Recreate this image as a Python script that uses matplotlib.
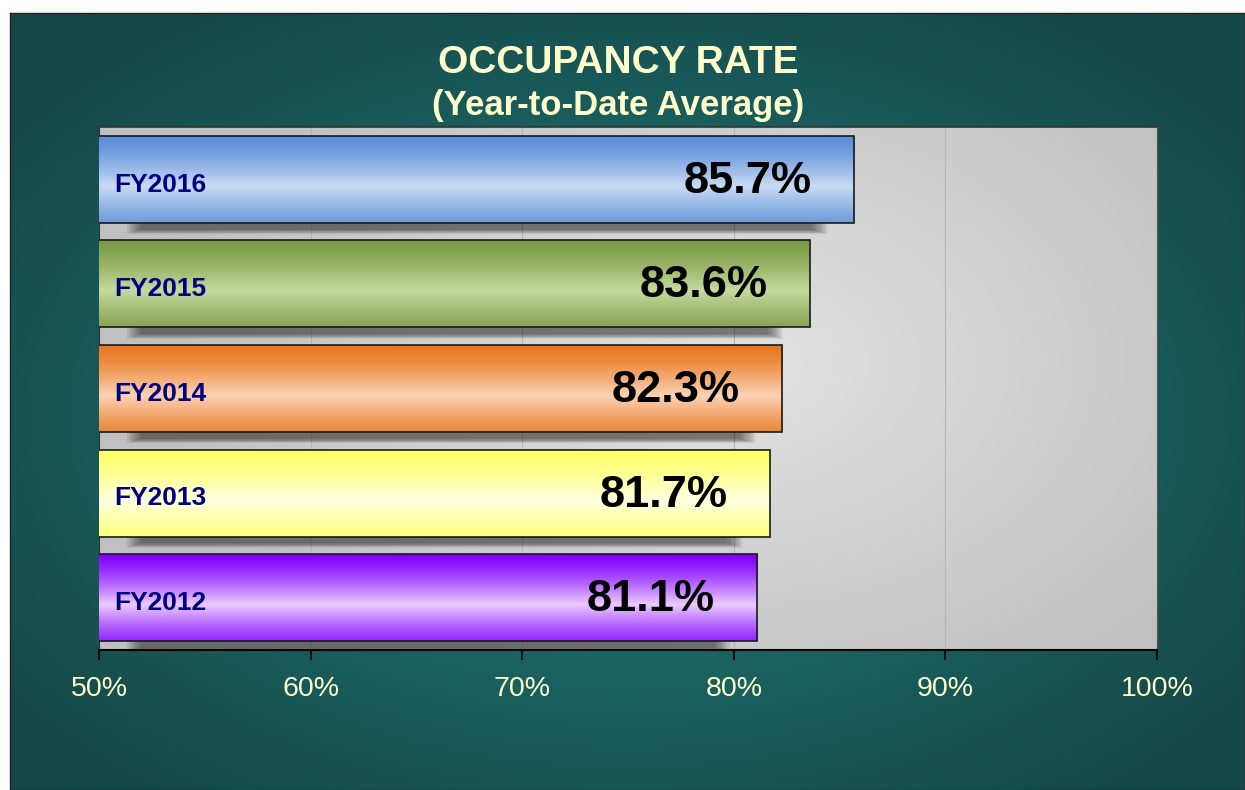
import matplotlib
matplotlib.use("Agg")
import matplotlib.pyplot as plt
import numpy as np
from matplotlib.patches import Rectangle
from matplotlib.colors import to_rgb

plt.rcParams['font.family'] = ['Liberation Sans', 'DejaVu Sans']

# -------------------------------
# Data
# -------------------------------
years = ['FY2012', 'FY2013', 'FY2014', 'FY2015', 'FY2016']
occupancy = [81.1, 81.7, 82.3, 83.6, 85.7]
tick_values = [50, 60, 70, 80, 90, 100]
tick_labels = ['50%', '60%', '70%', '80%', '90%', '100%']

# edge colour / highlight colour of each bar gradient
edge_colors = ['#8000FF', '#FFFF66', '#E8761E', '#7A9A46', '#5A8DD8']
light_colors = ['#EBCBFF', '#FFFFE2', '#FBD3B5', '#C6DA9E', '#C9DBF3']

cream = '#FFFFCC'
navy = '#000080'


def vertical_gradient(c_edge, c_light, n=200):
    t = np.linspace(0, 1, n)
    w = 1 - np.abs(t - 0.58) / 0.58
    w = np.clip(w, 0, 1) ** 1.3
    e = np.array(to_rgb(c_edge))
    l = np.array(to_rgb(c_light))
    rgb = e[None, :] * (1 - w[:, None]) + l[None, :] * w[:, None]
    return rgb[:, None, :]


fig = plt.figure(figsize=(12.45, 7.9), dpi=100)

# -------------------------------
# Teal background panel
# -------------------------------
bg = fig.add_axes([10 / 1245, 0, 1 - 10 / 1245, 1 - 13 / 790], zorder=-2)
yy, xx = np.mgrid[0:1:300j, 0:1:500j]
r = np.sqrt(((xx - 0.5) / 0.62) ** 2 + ((yy - 0.52) / 0.62) ** 2)
r = np.clip(r, 0, 1)
c_in = np.array(to_rgb('#1F807E'))
c_out = np.array(to_rgb('#164848'))
bg_img = c_in[None, None, :] * (1 - r[..., None]) + c_out[None, None, :] * r[..., None]
bg.imshow(bg_img, extent=(0, 1, 0, 1), aspect='auto', origin='upper')
bg.set_xlim(0, 1)
bg.set_ylim(0, 1)
bg.set_xticks([])
bg.set_yticks([])
for s in bg.spines.values():
    s.set_color('#222222')
    s.set_linewidth(1.0)

# -------------------------------
# Main plot area
# -------------------------------
ax = fig.add_axes([99 / 1245, 1 - 650 / 790, (1157 - 99) / 1245, (650 - 127) / 790])
ax.patch.set_visible(False)

# gray radial gradient of plot area
py, px = np.mgrid[0:1:200j, 0:1:400j]
pr = np.sqrt(((px - 0.6) / 0.55) ** 2 + ((py - 0.45) / 0.75) ** 2)
pr = np.clip(pr, 0, 1)
g_in = np.array(to_rgb('#E2E2E2'))
g_out = np.array(to_rgb('#C0C0C0'))
plot_img = g_in[None, None, :] * (1 - pr[..., None]) + g_out[None, None, :] * pr[..., None]
ax.imshow(plot_img, extent=(0, 1, 0, 1), transform=ax.transAxes,
          aspect='auto', origin='upper', zorder=0)

# grid lines
for v in tick_values[1:-1]:
    ax.axvline(v, color='#B5B5B5', lw=0.8, zorder=1)

y_pos = np.arange(len(years))
bar_h = 0.83

# soft shadows (stacked translucent rectangles)
for y, v in zip(y_pos, occupancy):
    for k in range(8):
        d = k * 0.1
        dy = k * 0.006
        ax.add_patch(Rectangle((52.0 - d, y - bar_h / 2 - 0.065 - dy),
                               (v - 2.0) - 52.0 + 2 * d, bar_h,
                               facecolor='#202020', edgecolor='none',
                               alpha=0.09, zorder=2))

bars = ax.barh(y_pos, occupancy, height=bar_h, left=0,
               color='none', edgecolor='#1A1A1A', linewidth=1.2, zorder=4)

for bar, ce, cl in zip(bars, edge_colors, light_colors):
    x0 = 50
    x1 = bar.get_x() + bar.get_width()
    y0 = bar.get_y()
    y1 = y0 + bar.get_height()
    ax.imshow(vertical_gradient(ce, cl), extent=(x0, x1, y0, y1),
              aspect='auto', origin='upper', zorder=3)

# labels
for y, v, name in zip(y_pos, occupancy, years):
    ax.text(50.7, y - 0.05, name, ha='left', va='center', fontsize=19,
            fontweight='bold', color=navy, zorder=5)
    ax.text(v - 2.0, y - 0.02, f'{v}%', ha='right', va='center', fontsize=32.5,
            fontweight='bold', color='black', zorder=5)

ax.set_xlim(50, 100)
ax.set_ylim(-0.5, len(years) - 0.5)
ax.set_xticks(tick_values)
ax.set_xticklabels(tick_labels)
ax.set_yticks([])
ax.tick_params(axis='x', direction='out', length=7, width=1.2, color='black',
               labelsize=20.5, labelcolor=cream, pad=12)

ax.spines['bottom'].set_color('black')
ax.spines['bottom'].set_linewidth(1.5)
ax.spines['top'].set_color('#333333')
ax.spines['top'].set_linewidth(1.2)
ax.spines['left'].set_color('#333333')
ax.spines['right'].set_color('#555555')

# -------------------------------
# Title
# -------------------------------
fig.text(618 / 1245, 1 - 63 / 790, 'OCCUPANCY RATE', ha='center', va='center',
         fontsize=28, fontweight='bold', color=cream)
fig.text(618 / 1245, 1 - 106 / 790, '(Year-to-Date Average)', ha='center', va='center',
         fontsize=25, fontweight='bold', color=cream)

fig.savefig('out.png', dpi=100)
